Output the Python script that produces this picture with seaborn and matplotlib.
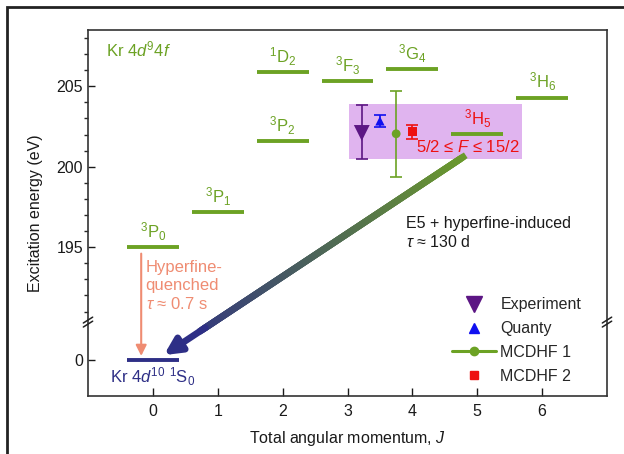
import numpy as np
import pandas as pd
import matplotlib
matplotlib.use("Agg")
import matplotlib.pyplot as plt
import seaborn as sns
from matplotlib.collections import LineCollection
from matplotlib.lines import Line2D
from matplotlib.patches import Rectangle

# ---- level scheme data -------------------------------------------------
level_labels = [r"$^{3}$P$_{0}$", r"$^{3}$P$_{1}$", r"$^{3}$P$_{2}$", r"$^{1}$D$_{2}$",
                r"$^{3}$F$_{3}$", r"$^{3}$G$_{4}$", r"$^{3}$H$_{5}$", r"$^{3}$H$_{6}$"]
level_J = [0, 1, 2, 2, 3, 4, 5, 6]
level_E = [195.0, 197.2, 201.6, 205.9, 205.3, 206.05, 202.05, 204.3]
ground_J = 0
ground_E = 0.0

# measured / calculated 3H5 energies
methods = ["Experiment", "Quanty", "MCDHF 1", "MCDHF 2"]
method_J = [3.22, 3.5, 3.75, 4.0]
method_E = [202.1, 202.85, 202.05, 202.2]
method_err_lo = [1.62, 0.4, 2.68, 0.47]
method_err_hi = [1.76, 0.35, 2.68, 0.42]

# ---- styling -----------------------------------------------------------
sns.set_theme(style="ticks")
plt.rcParams["font.family"] = ["Liberation Sans", "DejaVu Sans"]
plt.rcParams["mathtext.fontset"] = "custom"
plt.rcParams["mathtext.rm"] = "Liberation Sans"
plt.rcParams["mathtext.it"] = "Liberation Sans:italic"
plt.rcParams["mathtext.bf"] = "Liberation Sans:bold"

GREEN = "#6ca224"
NAVY = "#2e2f86"
SALMON = "#ef8c72"
PURPLE = "#5c1684"
BLUE = "#1010f0"
RED = "#ee1111"
SHADE = "#e0b4ef"
TEXT = "#1a1a1a"

fig = plt.figure(figsize=(6.24, 4.54), dpi=100)
ax = fig.add_axes([88 / 624, 1 - 396 / 454, (607 - 88) / 624, (396 - 30) / 454])

# broken energy axis: ground state region glued below the 4d^9 4f band
LO_TOP, HI_BOT, SHIFT = 2.47, 190.47, 188.0
xp = np.array([-1000.0, LO_TOP, HI_BOT, 1000.0])
fp = np.array([-1000.0 + SHIFT, LO_TOP + SHIFT, LO_TOP + SHIFT + 0.01, 1000.0 + 0.01])


def fwd(e):
    return np.interp(e, xp, fp)


def inv(y):
    return np.interp(y, fp, xp)


ax.set_yscale("function", functions=(fwd, inv))
ax.set_xlim(-1, 7)
ax.set_ylim(-2.24, 208.5)

# shaded region of the 3H5 estimates
ax.add_patch(Rectangle((3.03, 200.46), 2.66, 3.44, facecolor=SHADE, edgecolor="none", zorder=0))

# excited levels
for lab, J, E in zip(level_labels, level_J, level_E):
    ax.hlines(E, J - 0.4, J + 0.4, color=GREEN, lw=2.8, zorder=3)
    col = RED if "H$_{5}" in lab else GREEN
    ax.annotate(lab, (J, E), xytext=(0, 3), textcoords="offset points",
                ha="center", va="bottom", color=col, fontsize=12)

# ground level
ax.hlines(ground_E, ground_J - 0.4, ground_J + 0.4, color=NAVY, lw=2.8, zorder=3)

# hyperfine-quenched decay of 3P0
ax.annotate("", xy=(-0.18, 0.25), xytext=(-0.18, 194.6),
            arrowprops=dict(arrowstyle="-|>", color=SALMON, lw=1.5, mutation_scale=16,
                            shrinkA=0, shrinkB=0))

# E5 + hyperfine-induced decay of 3H5 with a green-to-navy gradient
start = (4.78, 200.6)
tip = (0.17, 0.3)
n = 160
ys = np.linspace(fwd(start[1]), fwd(tip[1]), n)
xs = np.linspace(start[0], tip[0], n)
es = inv(ys)
pts = np.column_stack([xs, es]).reshape(-1, 1, 2)
segs = np.concatenate([pts[:-1], pts[1:]], axis=1)
c0 = np.array(matplotlib.colors.to_rgb("#6b9a2c"))
c1 = np.array(matplotlib.colors.to_rgb(NAVY))
t = np.linspace(0, 1, len(segs))[:, None]
cols = c0 * (1 - t) + c1 * t
keep = int(len(segs) * 0.88)
lc = LineCollection(segs[:keep], colors=cols[:keep], linewidths=4.8, capstyle="projecting",
                    zorder=4)
ax.add_collection(lc)
ax.annotate("", xy=tip, xytext=(xs[keep - 2], es[keep - 2]),
            arrowprops=dict(arrowstyle="-|>,head_length=0.7,head_width=0.35", color=NAVY,
                            lw=4.8, mutation_scale=14, shrinkA=0, shrinkB=0), zorder=5)

# error bars and markers for the 3H5 estimates
df = pd.DataFrame({"method": methods, "J": method_J, "E": method_E})
err_cols = [PURPLE, BLUE, GREEN, RED]
for J, E, lo, hi, c in zip(method_J, method_E, method_err_lo, method_err_hi, err_cols):
    ax.errorbar(J, E, yerr=[[lo], [hi]], fmt="none", ecolor=c, elinewidth=1.2,
                capsize=4, capthick=1.2, zorder=5)
sns.scatterplot(data=df, x="J", y="E", hue="method", style="method",
                palette=dict(zip(methods, err_cols)),
                markers=dict(zip(methods, ["v", "^", "o", "s"])),
                size="method", sizes=dict(zip(methods, [130, 45, 40, 45])),
                edgecolor="none", legend=False, ax=ax, zorder=6)

# annotations
ax.text(4.05, 201.2, r"5/2 ≤ $F$ ≤ 15/2", color=RED, fontsize=12, ha="left", va="center")
ax.text(-0.11, 194.2, "Hyperfine-\nquenched\n" + r"$\tau$ ≈ 0.7 s", color=SALMON,
        fontsize=12, ha="left", va="top", linespacing=1.25)
ax.text(-0.66, -1.06, r"Kr 4$d^{10}$ $^{1}$S$_{0}$", color=NAVY, fontsize=12,
        ha="left", va="center")
ax.text(-0.73, 207.3, r"Kr 4$d^{9}$4$f$", color=GREEN, fontsize=12, ha="left", va="center")
ax.text(3.9, 196.95, "E5 + hyperfine-induced\n" + r"$\tau$ ≈ 130 d", color=TEXT,
        fontsize=11.5, ha="left", va="top", linespacing=1.25)

# legend
handles = [
    Line2D([], [], ls="none", marker="v", color=PURPLE, markersize=11),
    Line2D([], [], ls="none", marker="^", color=BLUE, markersize=6.5),
    Line2D([], [], ls="-", lw=2.2, marker="o", color=GREEN, markersize=6),
    Line2D([], [], ls="none", marker="s", color=RED, markersize=6),
]
ax.legend(handles, methods, loc="upper left", bbox_to_anchor=(0.69, 0.287),
          frameon=False, fontsize=11.5, handlelength=2.7, handletextpad=0.3,
          labelspacing=0.55, borderaxespad=0)

# ticks
ax.set_xticks(range(0, 7))
ax.set_yticks([0, 195, 200, 205])
ax.set_yticks([e for e in range(191, 209) if e % 5 != 0], minor=True)
ax.tick_params(axis="both", direction="in", labelsize=11.5, colors=TEXT)
ax.tick_params(axis="y", which="major", length=5, width=1)
ax.tick_params(axis="y", which="minor", length=3, width=1)
ax.tick_params(axis="x", which="major", length=6, width=1, pad=6)
ax.tick_params(axis="x", which="minor", length=0)
for s in ax.spines.values():
    s.set_visible(True)
    s.set_linewidth(1.2)
    s.set_color("#333333")

ax.set_xlabel(r"Total angular momentum, $J$", fontsize=11.5, color=TEXT, labelpad=7)
ax.set_ylabel("Excitation energy (eV)", fontsize=11.5, color=TEXT, labelpad=10)

# break marks on both vertical spines
yb = (fwd(HI_BOT) - fwd(-2.24)) / (fwd(208.5) - fwd(-2.24))
dx, dy, gap = 0.009, 0.008, 0.011
for xa in (0.0, 1.0):
    for off in (0.0, -gap):
        ax.plot([xa - dx, xa + dx], [yb + off - dy, yb + off + dy], transform=ax.transAxes,
                color="#222222", lw=1.1, clip_on=False, zorder=10)

# outer frame
fig.add_artist(Rectangle((7 / 624, -0.1), 1.2, 1 - 7 / 454 + 0.1, transform=fig.transFigure,
                         fill=False, edgecolor="#222222", lw=2))

fig.savefig("out.png", dpi=100)
